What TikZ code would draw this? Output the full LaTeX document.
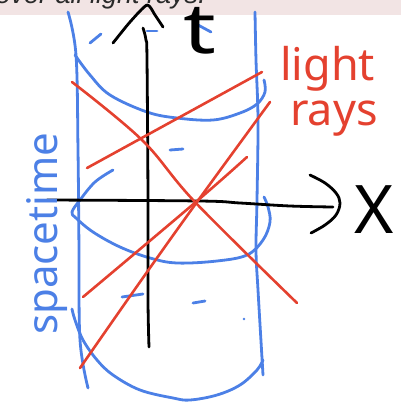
\documentclass[tikz,border=0pt]{standalone}
\usepackage{fontspec}
\setmainfont{Liberation Sans}
\newfontfamily\hand{Noto Sans}
\definecolor{penblue}{HTML}{4C80E6}
\definecolor{penred}{HTML}{E4412F}
\definecolor{bandpink}{HTML}{F2E4E4}
\definecolor{bandtext}{HTML}{2A2A2A}
\begin{document}
\begin{tikzpicture}[x=1pt,y=-1pt,line cap=round,line join=round,
  bluepen/.style={draw=penblue,line width=2.8pt},
  redpen/.style={draw=penred,line width=2.6pt},
  blackpen/.style={draw=black,line width=2.8pt},
  handtext/.style={inner sep=0pt,font=\hand}]
\useasboundingbox (0,0) rectangle (401,404);
% top band with cut-off caption
\fill[bandpink] (0,0) rectangle (401,15.5);
\begin{scope}
  \clip (0,0) rectangle (401,15.5);
  \node[anchor=base east,inner sep=0pt,text=bandtext,font=\fontsize{27}{27}\selectfont\itshape] (caption) at (206,3.5) {over all light rays.};
\end{scope}
% ---- blue cylinder ----
\draw[bluepen] plot[smooth,tension=0.6] coordinates {(68,12) (76,55) (78,150) (79,250) (80,340) (88,388)};
\draw[bluepen] plot[smooth,tension=0.6] coordinates {(255,12) (256,60) (258,120) (257,200) (256,250) (258,290) (263,375)};
\draw[bluepen] plot[smooth,tension=0.6] coordinates {(75,55) (90,75) (110,95) (147,112) (177,118) (213,120) (240,113) (257,104) (265,92) (264,80)};
\draw[bluepen] plot[smooth,tension=0.6] coordinates {(113,170) (95,182) (80,200) (72,212) (76,218) (93,232) (120,247) (150,258) (177,263) (217,261) (247,255) (263,240) (270,222) (268,207) (264,197)};
\draw[bluepen] plot[smooth,tension=0.6] coordinates {(72,309) (75,320) (83,340) (97,360) (113,375) (140,390) (173,398) (190,400) (217,395) (240,385) (257,370) (263,360)};
% hidden (back) dashes
\draw[bluepen] (90,43) -- (101,34);
\draw[bluepen] (147,31) -- (157,31);
\draw[bluepen] (198,25) -- (211,32);
\draw[bluepen] (170,150) -- (183,149);
\draw[bluepen] (122,297) -- (143,294);
\draw[bluepen] (193,303) -- (205,301);
\fill[penblue] (244,319) circle (1.3);
% ---- black axes ----
\draw[blackpen] plot[smooth,tension=0.6] coordinates {(143,28) (146,40) (147,60) (148,200) (148,300) (149,347)};
\draw[blackpen] plot[smooth,tension=0.4] coordinates {(113,43) (130,22) (147,5) (155,15) (163,27)};
\draw[blackpen] plot[smooth,tension=0.6] coordinates {(47,200) (200,201) (240,203) (290,206) (333,207)};
\draw[blackpen] plot[smooth,tension=0.6] coordinates {(310,175) (325,183) (336,193) (340,203) (336,215) (325,225) (311,233)};
% ---- red light rays ----
\draw[redpen] plot[smooth,tension=0.6] coordinates {(72,82) (142,140) (195,202) (297,303)};
\draw[redpen] (87,168) -- (262,72);
\draw[redpen] plot[smooth,tension=0.6] coordinates {(80,368) (140,282) (197,202) (270,102)};
\draw[redpen] plot[smooth,tension=0.6] coordinates {(83,297) (197,201) (247,157)};
% ---- labels ----
\node[handtext,anchor=base,text=black,font=\hand\fontsize{70}{70}\selectfont] (tlab) at (200,53) {\scalebox{1.3}[1]{t}};
\node[handtext,anchor=base,text=black,font=\hand\fontsize{67}{67}\selectfont] (xlab) at (374,233) {X};
\node[handtext,anchor=base west,text=penred,font=\hand\fontsize{45}{45}\selectfont] (light) at (280,81) {light};
\node[handtext,anchor=base west,text=penred,font=\hand\fontsize{45}{45}\selectfont] (rays) at (290,125) {rays};
\node[handtext,anchor=base west,rotate=90,text=penblue,font=\hand\fontsize{42}{42}\selectfont] (st) at (57,335) {spacetime};
\end{tikzpicture}
\end{document}
